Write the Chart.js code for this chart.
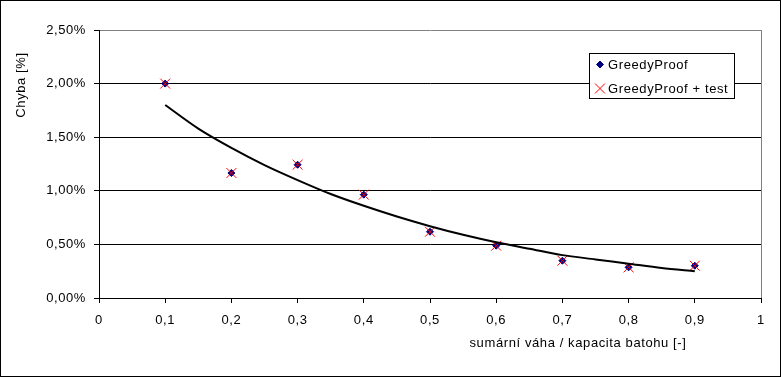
<!DOCTYPE html>
<html>
<head>
<meta charset="utf-8">
<script src="https://cdn.jsdelivr.net/npm/chart.js@4/dist/chart.umd.min.js"></script>
<style>
html,body{margin:0;padding:0;background:#fff;}
canvas{display:block;}
</style>
</head>
<body>
<canvas id="c" width="781" height="377"></canvas>
<script>
// ---- data ----
const xValues = [0.1, 0.2, 0.3, 0.4, 0.5, 0.6, 0.7, 0.8, 0.9];
const greedyProof = [2.00, 1.166, 1.243, 0.964, 0.618, 0.488, 0.348, 0.286, 0.301];
const greedyProofTest = [2.00, 1.166, 1.243, 0.964, 0.618, 0.488, 0.348, 0.286, 0.301];
const trendX = [0.1, 0.15, 0.2, 0.25, 0.3, 0.35, 0.4, 0.45, 0.5, 0.55, 0.6, 0.65, 0.7, 0.75, 0.8, 0.85, 0.9];
const trendY = [1.80, 1.58, 1.40, 1.24, 1.10, 0.97, 0.86, 0.76, 0.67, 0.59, 0.52, 0.46, 0.40, 0.36, 0.32, 0.28, 0.25];
const seriesNames = ['GreedyProof', 'GreedyProof + test'];
const xTitle = 'sumární váha / kapacita batohu [-]';
const yTitle = 'Chyba [%]';

const FONT = 'Liberation Sans, Arial, sans-serif';
const SPACING = '0.6px';
const toPts = (xs, ys) => xs.map((x, i) => ({x: x, y: ys[i]}));

const spacing = {
  id: 'spacing',
  beforeInit(chart) { chart.ctx.letterSpacing = SPACING; },
  beforeLayout(chart) { chart.ctx.letterSpacing = SPACING; },
  beforeDraw(chart) { chart.ctx.letterSpacing = SPACING; }
};

const overlay = {
  id: 'overlay',
  afterDraw(chart) {
    const ctx = chart.ctx;
    ctx.save();
    ctx.letterSpacing = SPACING;
    // outer border
    ctx.strokeStyle = '#000';
    ctx.lineWidth = 1;
    ctx.strokeRect(0.5, 0.5, chart.width - 1, chart.height - 1);
    // axis titles
    ctx.fillStyle = '#000';
    ctx.font = '13px ' + FONT;
    ctx.textAlign = 'center';
    ctx.textBaseline = 'middle';
    ctx.fillText(xTitle, 578, 343);
    ctx.save();
    ctx.translate(21, 85);
    ctx.rotate(-Math.PI / 2);
    ctx.fillText(yTitle, 0, 0);
    ctx.restore();
    // legend box
    const lx = 589, ly = 53, lw = 145, lh = 45;
    ctx.fillStyle = '#fff';
    ctx.fillRect(lx, ly, lw, lh);
    ctx.strokeStyle = '#000';
    ctx.strokeRect(lx + 0.5, ly + 0.5, lw, lh);
    // legend markers
    ctx.fillStyle = '#000080';
    ctx.strokeStyle = '#000080';
    ctx.lineWidth = 1;
    Chart.helpers.drawPoint(ctx, {pointStyle: 'rectRot', radius: 3.5, borderWidth: 1}, 600, 64.5);
    ctx.strokeStyle = '#ff0000';
    Chart.helpers.drawPoint(ctx, {pointStyle: 'crossRot', radius: 7, borderWidth: 1}, 600, 88.5);
    // legend text
    ctx.fillStyle = '#000';
    ctx.textAlign = 'left';
    ctx.textBaseline = 'middle';
    ctx.font = '13px ' + FONT;
    ctx.fillText(seriesNames[0], 608, 65);
    ctx.fillText(seriesNames[1], 608, 89);
    ctx.restore();
  }
};

new Chart(document.getElementById('c'), {
  type: 'scatter',
  data: {
    datasets: [
      {
        label: 'trend',
        type: 'line',
        data: toPts(trendX, trendY),
        borderColor: '#000',
        borderWidth: 2,
        pointRadius: 0,
        tension: 0.3,
        fill: false,
        order: 0
      },
      {
        label: seriesNames[1],
        data: toPts(xValues, greedyProofTest),
        pointStyle: 'crossRot',
        pointRadius: 7,
        pointBorderWidth: 1,
        borderColor: '#ff0000',
        backgroundColor: '#ff0000',
        order: 1
      },
      {
        label: seriesNames[0],
        data: toPts(xValues, greedyProof),
        pointStyle: 'rectRot',
        pointRadius: 3.5,
        pointBorderWidth: 1,
        borderColor: '#000080',
        backgroundColor: '#000080',
        order: 2
      }
    ]
  },
  options: {
    responsive: false,
    animation: false,
    devicePixelRatio: 1,
    layout: {padding: {top: 30, right: 20, left: 0, bottom: 0}},
    plugins: {legend: {display: false}, tooltip: {enabled: false}},
    scales: {
      x: {
        type: 'linear',
        min: 0, max: 1,
        afterFit(s) { s.height = 79; },
        border: {display: true, color: '#000', width: 1},
        grid: {
          color: c => (c.tick && Math.abs(c.tick.value - 1) < 1e-6) ? '#808080' : 'rgba(0,0,0,0)',
          tickColor: '#000',
          tickLength: 5,
          lineWidth: 1,
          drawOnChartArea: true
        },
        ticks: {
          stepSize: 0.1,
          padding: 10,
          color: '#000',
          font: {family: FONT, size: 13},
          maxRotation: 0,
          autoSkip: false,
          callback: v => String(Math.round(v * 10) / 10).replace('.', ',')
        }
      },
      y: {
        type: 'linear',
        min: 0, max: 2.5,
        afterFit(s) { s.width = 99; },
        border: {display: true, color: '#000', width: 1},
        grid: {
          color: c => (c.tick && c.tick.value >= 2.5 - 1e-6) ? '#808080' : '#000',
          tickColor: '#000',
          tickLength: 5,
          lineWidth: 1
        },
        ticks: {
          stepSize: 0.5,
          padding: 8,
          color: '#000',
          font: {family: FONT, size: 13},
          callback: v => v.toFixed(2).replace('.', ',') + '%'
        }
      }
    }
  },
  plugins: [spacing, overlay]
});
</script>
</body>
</html>
